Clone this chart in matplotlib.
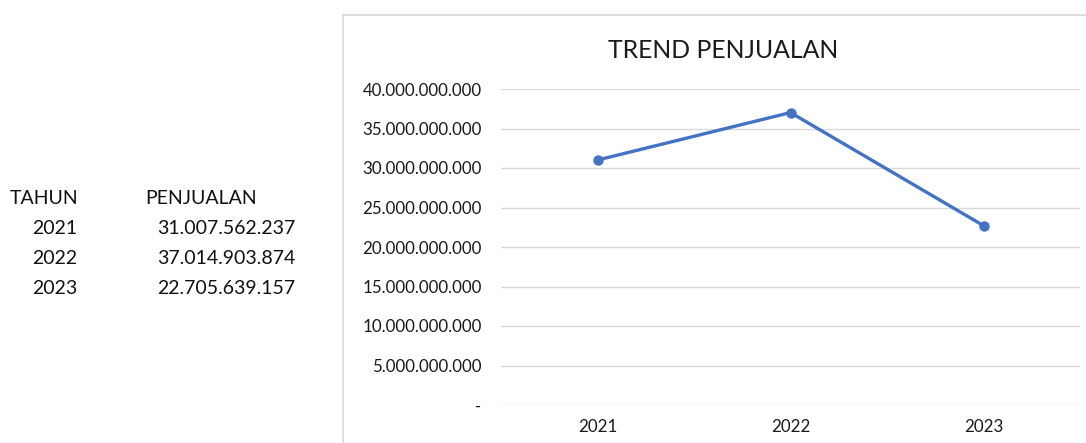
import numpy as np
import matplotlib
matplotlib.use('Agg')
import matplotlib.pyplot as plt
from matplotlib.ticker import FuncFormatter, MultipleLocator
from matplotlib.lines import Line2D

# data
tahun = ['2021', '2022', '2023']
penjualan = [31007562237, 37014903874, 22705639157]

plt.rcParams['font.family'] = ['Lato', 'DejaVu Sans']

W, H = 1086, 443
fig = plt.figure(figsize=(W / 100, H / 100), dpi=100)
fig.patch.set_facecolor('white')


def fx(px):
    return px / W


def fy(py):
    return 1 - py / H


# tabel di kiri
txt_col = '#111111'
fig.text(fx(10), fy(198), 'TAHUN', fontsize=14, color=txt_col, va='center', ha='left')
fig.text(fx(145), fy(198), 'PENJUALAN', fontsize=14, color=txt_col, va='center', ha='left')
for i, (t, v) in enumerate(zip(tahun, penjualan)):
    y = fy(228 + i * 30)
    fig.text(fx(32), y, t, fontsize=14, color=txt_col, va='center', ha='left')
    fig.text(fx(295), y, f'{v:,}'.replace(',', '.'), fontsize=14,
             color=txt_col, va='center', ha='right')

# bingkai chart
frame_c = '#d9d9d9'
fig.add_artist(Line2D([fx(343), fx(343)], [fy(15), 0], color=frame_c, lw=1.2,
                      transform=fig.transFigure))
fig.add_artist(Line2D([fx(343), 1], [fy(15), fy(15)], color=frame_c, lw=1.2,
                      transform=fig.transFigure))

# grafik
ax = fig.add_axes([fx(501), fy(405), fx(1080) - fx(501), fy(89) - fy(405)])
x = np.arange(len(tahun))
ax.plot(x, penjualan, color='#4472C4', lw=2.4, marker='o', markersize=6.5)

ax.set_xlim(-0.5, len(tahun) - 0.5)
ax.set_ylim(0, 40e9)
ax.yaxis.set_major_locator(MultipleLocator(5e9))


def fmt(v, pos):
    if v == 0:
        return '-'
    return f'{int(v):,}'.replace(',', '.')


ax.yaxis.set_major_formatter(FuncFormatter(fmt))
ax.set_xticks(x)
ax.set_xticklabels(tahun)
ax.tick_params(axis='y', length=0, pad=14, labelsize=12.2, labelcolor='#1a1a1a')
ax.tick_params(axis='x', length=0, pad=10, labelsize=12.2, labelcolor='#1a1a1a')
ax.grid(axis='y', color='#d9d9d9', lw=1)
ax.set_axisbelow(True)
for s in ax.spines.values():
    s.set_visible(False)

fig.text(fx(723), fy(51), 'TREND PENJUALAN', fontsize=17.8, color='#1a1a1a',
         ha='center', va='center')

fig.savefig('out.png', dpi=100)
